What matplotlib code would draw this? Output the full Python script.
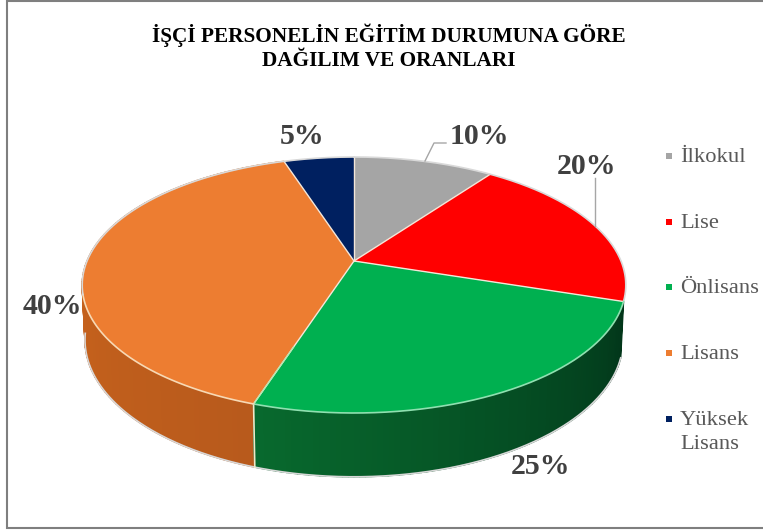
import numpy as np
import matplotlib
matplotlib.use('Agg')
import matplotlib.pyplot as plt
from matplotlib.colors import to_rgb
from matplotlib.patches import Polygon, Rectangle

labels = ['İlkokul', 'Lise', 'Önlisans', 'Lisans', 'Yüksek\nLisans']
values = [10, 20, 25, 40, 5]
colors = ['#a5a5a5', '#ff0000', '#00b050', '#ed7d31', '#002060']
side_light = ['#808080', '#c00000', '#086a2e', '#d96c1c', '#001040']
side_dark = ['#606060', '#900000', '#02361a', '#b85a1c', '#000830']
title = 'İŞÇİ PERSONELİN EĞİTİM DURUMUNA GÖRE\nDAĞILIM VE ORANLARI'

# perspective of the pie, in pixels of the picture
cx, cy = 354, 261
a, b, k = 267, 123.5, 0.1875
d, m = 54, 0.01


def project(angle, z=0.0):
    # angle in degrees clockwise from the top
    t = np.radians(angle)
    x = np.sin(t)
    y = np.cos(t)
    w = 1 + k * y + m * z
    return cx + a * x / w, cy + (-b * y + d * z) / w


def rim(start, end, z=0.0):
    angles = np.linspace(start, end, max(int(abs(end - start) * 2), 2))
    xs, ys = project(angles, z)
    return np.column_stack([xs, ys])


fig = plt.figure(figsize=(7.63, 5.30), dpi=100)
ax = fig.add_axes([0, 0, 1, 1])
ax.set_xlim(0, 763)
ax.set_ylim(530, 0)
ax.axis('off')

# frame, the right side is cut off in the picture
ax.plot([763, 7, 7, 763], [1, 1, 528, 528], color='#7f7f7f', linewidth=1.5, solid_joinstyle='miter')

edges = np.cumsum([0] + values) / sum(values) * 360

# side of the pie, only Önlisans and Lisans face the viewer
strips = []
for i in [2, 3]:
    for s in np.arange(edges[i], edges[i + 1], 1.0):
        strips.append((i, s, min(s + 1.0, edges[i + 1])))
strips.sort(key=lambda p: project(p[1], 1)[1])
for i, s, e in strips:
    f = 1 - (s - edges[i]) / (edges[i + 1] - edges[i])
    col = np.array(to_rgb(side_light[i])) * (1 - f) + np.array(to_rgb(side_dark[i])) * f
    pts = np.vstack([rim(s, e, 0), rim(s, e, 1)[::-1]])
    ax.add_patch(Polygon(pts, closed=True, facecolor=col, edgecolor=col, linewidth=1.0))

# outline under the pie
ax.plot(*rim(edges[2], 262, 1).T, color='#d8d8d8', linewidth=1.2, zorder=1.5)
x0, y0 = project(edges[3], 0)
x1, y1 = project(edges[3], 1)
ax.plot([x0, x1], [y0, y1], color='#f0e8c8', linewidth=1.2, zorder=1.5)

# top face
for i in range(len(values)):
    pts = np.vstack([[cx, cy], rim(edges[i], edges[i + 1])])
    ax.add_patch(Polygon(pts, closed=True, facecolor=colors[i], edgecolor='none', zorder=1.6))
for i in range(len(values)):
    x, y = project(edges[i])
    ax.plot([cx, x], [cy, y], color='#f4e6d8', linewidth=1.0, solid_capstyle='round', zorder=1.7)
x, y = project(edges[3])
ax.plot([cx + (x - cx) * 0.6, x], [cy + (y - cy) * 0.6, y], color='#b5e8b0', linewidth=1.0, zorder=1.7)
ax.plot(*rim(0, edges[2]).T, color='#d9d9d9', linewidth=1.2, zorder=1.7)
ax.plot(*rim(edges[2], edges[3]).T, color='#8fe0b0', linewidth=1.2, zorder=1.7)
ax.plot(*rim(edges[3], 255).T, color='#f7d9b5', linewidth=1.2, zorder=1.7)
ax.plot(*rim(255, 360).T, color='#d9d9d9', linewidth=1.2, zorder=1.7)

serif = 'Liberation Serif'
ax.text(389, 47, title, ha='center', va='center', family=serif, fontweight='bold',
        fontsize=15.35, color='black', linespacing=1.26)

# value labels
pct_pos = [(479.5, 137), (586, 166), (540, 466), (52, 306), (302, 136)]
for v, (x, y) in zip(values, pct_pos):
    ax.text(x, y, f'{v}%', ha='center', va='center', family=serif, fontweight='bold',
            fontsize=21.5, color='#404040')

# leader lines
ax.plot([425, 434, 446], [161, 143, 143], color='#a6a6a6', linewidth=1)
ax.plot([595, 595], [178, 226], color='#a6a6a6', linewidth=1)

# legend
leg_y = [156, 222, 287, 353, 419]
for lab, col, y in zip(labels, colors, leg_y):
    ax.add_patch(Rectangle((666, y - 3), 6, 6, facecolor=col, edgecolor='none'))
    ax.text(680, y - 8, lab, ha='left', va='top', family=serif,
            fontsize=16.2, color='#595959', linespacing=1.39)

fig.savefig('out.png', dpi=100)
